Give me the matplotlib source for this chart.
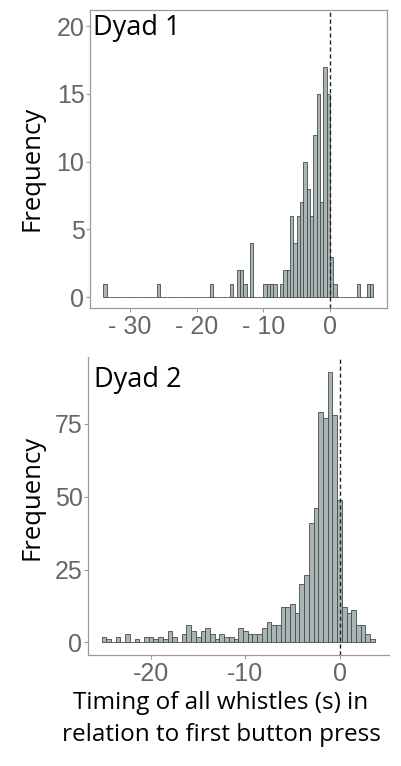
import numpy as np
import matplotlib
matplotlib.use('Agg')
from matplotlib import pyplot as plt

# Dyad 1: histogram bins (left edge, s) and counts, bin width 0.5 s
d1_edges = [-34.0, -26.0, -18.0, -15.0, -14.0, -13.5, -13.0, -12.0, -10.0, -9.5, -9.0, -8.5,
            -7.5, -7.0, -6.5, -6.0, -5.5, -5.0, -4.5, -4.0, -3.5, -3.0, -2.5, -2.0, -1.5,
            -1.0, -0.5, 0.0, 0.5, 4.0, 5.5, 6.0]
d1_counts = [1, 1, 1, 1, 2, 2, 1, 4, 1, 1, 1, 1,
             1, 2, 2, 6, 4, 6, 7, 10, 8, 6, 12, 15, 7,
             17, 15, 3, 1, 1, 1, 1]
d1_xticks = [-30, -20, -10, 0]
d1_xticklabels = ['- 30', '- 20', '- 10', '0']
d1_yticks = [0, 5, 10, 15, 20]

# Dyad 2: histogram bins (centre, s) and counts, bin width 0.5 s
d2_centres = [-25.0, -24.5, -23.5, -22.5, -21.5, -20.5, -20.0, -19.5, -19.0, -18.5, -18.0,
              -17.5, -16.5, -16.0, -15.5, -15.0, -14.5, -14.0, -13.5, -13.0, -12.5, -12.0,
              -11.5, -11.0, -10.5, -10.0, -9.5, -9.0, -8.5, -8.0, -7.5, -7.0, -6.5, -6.0,
              -5.5, -5.0, -4.5, -4.0, -3.5, -3.0, -2.5, -2.0, -1.5, -1.0, -0.5, 0.0,
              0.5, 1.0, 1.5, 2.0, 2.5, 3.0, 3.5]
d2_counts = [2, 1, 2, 3, 1, 2, 2, 1, 2, 1, 4,
             2, 3, 6, 4, 2, 4, 5, 3, 1, 3, 2,
             2, 1, 5, 4, 3, 3, 3, 5, 7, 6, 6, 12,
             12, 13, 10, 20, 23, 41, 46, 79, 77, 93, 78, 49,
             12, 10, 11, 6, 6, 3, 1]
d2_xticks = [-20, -10, 0]
d2_xticklabels = ['-20', '-10', '0']
d2_yticks = [0, 25, 50, 75]

BW = 0.5
W, H = 401, 766
fill = '#a9b5b5'
edge = '#434b4b'
tick_col = '#666666'
spine_col = '#9a9a9a'


def full_bins(lo, hi, known_x, known_n):
    # every bin between first and last, zero where nothing was drawn
    xs = np.arange(lo, hi + BW / 2, BW)
    ns = np.zeros(len(xs))
    for x, n in zip(known_x, known_n):
        ns[int(round((x - lo) / BW))] = n
    return xs, ns


def px_axes(fig, l, r, t, b):
    return fig.add_axes([l / W, 1 - b / H, (r - l) / W, (b - t) / H])


def style(ax):
    ax.tick_params(axis='both', colors=spine_col, labelcolor=tick_col, length=3, width=0.8,
                   labelsize=18)
    ax.tick_params(axis='y', pad=1)
    ax.tick_params(axis='x', pad=2)
    for lab in ax.get_xticklabels() + ax.get_yticklabels():
        lab.set_fontfamily('Liberation Sans')


fig = plt.figure(figsize=(W / 100, H / 100), dpi=100)

# ---- Dyad 1
ax1 = px_axes(fig, 90, 387, 10, 308)
x1, n1 = full_bins(-34.0, 6.0, d1_edges, d1_counts)
ax1.bar(x1, n1, width=BW, align='edge', color=fill, edgecolor=edge, linewidth=0.6)
ax1.axvline(0, color='#222222', linestyle=(0, (3, 2)), linewidth=1)
ax1.set_xlim(-36.0, 8.55)
ax1.set_ylim(-0.8, 21.2)
ax1.set_xticks(d1_xticks)
ax1.set_xticklabels(d1_xticklabels)
ax1.set_yticks(d1_yticks)
for s in ax1.spines.values():
    s.set_color(spine_col)
    s.set_linewidth(0.9)
style(ax1)
ax1.text(0.01, 0.985, 'Dyad 1', transform=ax1.transAxes, ha='left', va='top',
         fontsize=19.5, family='Open Sans', color='black')

# ---- Dyad 2
ax2 = px_axes(fig, 88, 388.5, 357, 655)
x2, n2 = full_bins(-25.0, 3.5, d2_centres, d2_counts)
ax2.bar(x2, n2, width=BW, align='center', color=fill, edgecolor=edge, linewidth=0.6)
ax2.axvline(0, color='#222222', linestyle=(0, (3, 2)), linewidth=1)
ax2.set_xlim(-26.7, 5.2)
ax2.set_ylim(-4.35, 98.0)
ax2.set_xticks(d2_xticks)
ax2.set_xticklabels(d2_xticklabels)
ax2.set_yticks(d2_yticks)
ax2.spines[['top', 'right']].set_visible(False)
for s in ['left', 'bottom']:
    ax2.spines[s].set_color(spine_col)
    ax2.spines[s].set_linewidth(0.9)
style(ax2)
ax2.text(0.02, 0.97, 'Dyad 2', transform=ax2.transAxes, ha='left', va='top',
         fontsize=19.5, family='Open Sans', color='black')

# axis titles
fig.text(32 / W, 1 - 168 / H, 'Frequency', rotation=90, ha='center', va='center',
         fontsize=18.5, family='Open Sans')
fig.text(32 / W, 1 - 497 / H, 'Frequency', rotation=90, ha='center', va='center',
         fontsize=18.5, family='Open Sans')
fig.text(221 / W, 1 - 719 / H, 'Timing of all whistles (s) in\nrelation to first button press',
         ha='center', va='center', fontsize=17.5, family='Open Sans', linespacing=1.45)

fig.savefig('out.png', dpi=100)
